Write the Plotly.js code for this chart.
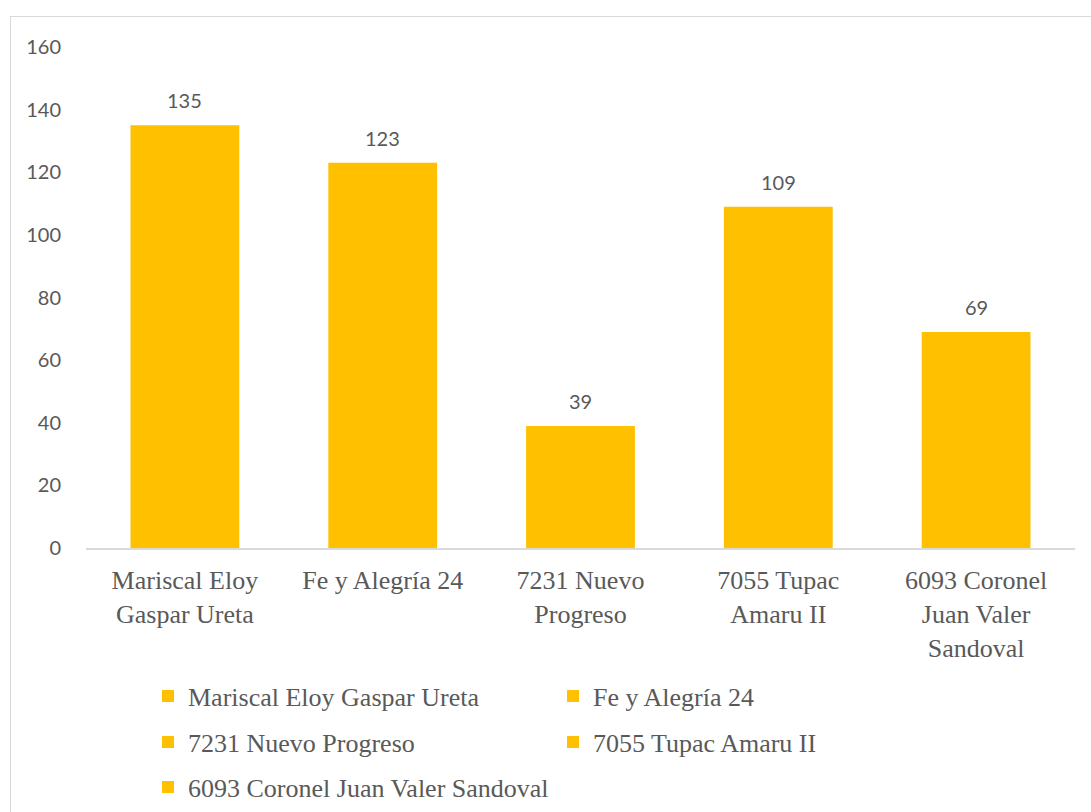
<!DOCTYPE html>
<html>
<head>
<meta charset="utf-8">
<script src="https://cdn.plot.ly/plotly-3.0.1.min.js"></script>
<style>
  html, body { margin: 0; padding: 0; background: #fff; overflow: hidden; }
  #wrap { position: relative; width: 1091px; height: 812px; }
  #chart { position: absolute; left: 0; top: 0; width: 1091px; height: 812px; }
  #frame { position: absolute; left: 10px; top: 16px; width: 1100px; height: 820px;
           border: 1.5px solid #D9D9D9; box-sizing: border-box; pointer-events: none; }
</style>
</head>
<body>
<div id="wrap">
  <div id="chart"></div>
  <div id="frame"></div>
</div>
<script>
// ---- data ----
const categories = [
  "Mariscal Eloy Gaspar Ureta",
  "Fe y Alegría 24",
  "7231 Nuevo Progreso",
  "7055 Tupac Amaru II",
  "6093 Coronel Juan Valer Sandoval"
];
const tickLabels = [
  "Mariscal Eloy<br>Gaspar Ureta",
  "Fe y Alegría 24",
  "7231 Nuevo<br>Progreso",
  "7055 Tupac<br>Amaru II",
  "6093 Coronel<br>Juan Valer<br>Sandoval"
];
const values = [135, 123, 39, 109, 69];
const legendRows = ["legend", "legend", "legend2", "legend2", "legend3"];

// ---- styling ----
const barColor = "#FFC000";
const textColor = "#595959";
const serif = "'Liberation Serif', 'Times New Roman', serif";
const sans = "Lato, Carlito, Calibri, sans-serif";

const traces = categories.map((c, i) => ({
  type: "bar",
  x: [c],
  y: [values[i]],
  name: c,
  legend: legendRows[i],
  marker: { color: barColor },
  width: 0.55,
  hoverinfo: "x+y"
}));

const annotations = categories.map((c, i) => ({
  x: c, y: values[i], xref: "x", yref: "y",
  text: String(values[i]),
  showarrow: false, yanchor: "bottom", yshift: 11,
  font: { family: sans, size: 20, color: textColor }
}));

function legendAt(yPix) {
  return {
    orientation: "h",
    xref: "container", yref: "container",
    x: 148 / 1091, xanchor: "left",
    y: 1 - yPix / 812, yanchor: "middle",
    entrywidth: 360, entrywidthmode: "pixels",
    font: { family: serif, size: 26, color: textColor },
    bgcolor: "rgba(0,0,0,0)",
    itemclick: false, itemdoubleclick: false
  };
}

const layout = {
  width: 1091, height: 812,
  margin: { l: 86, r: 16, t: 47, b: 264 },
  paper_bgcolor: "#ffffff",
  plot_bgcolor: "#ffffff",
  barmode: "overlay",
  showlegend: true,
  xaxis: {
    type: "category",
    categoryorder: "array",
    categoryarray: categories,
    tickvals: categories,
    ticktext: tickLabels,
    showline: true, linecolor: "#D9D9D9", linewidth: 1.5,
    showgrid: false, zeroline: false,
    ticks: "outside", ticklen: 8, tickcolor: "rgba(0,0,0,0)",
    tickfont: { family: serif, size: 26, color: textColor },
    fixedrange: true
  },
  yaxis: {
    range: [0, 160],
    tick0: 0, dtick: 20,
    showgrid: false, zeroline: false, showline: false,
    ticks: "outside", ticklen: 20, tickcolor: "rgba(0,0,0,0)",
    tickfont: { family: sans, size: 20, color: textColor },
    fixedrange: true
  },
  legend: legendAt(696),
  legend2: legendAt(742),
  legend3: legendAt(787),
  annotations: annotations
};

Plotly.newPlot("chart", traces, layout, { displayModeBar: false, staticPlot: false });
</script>
</body>
</html>
